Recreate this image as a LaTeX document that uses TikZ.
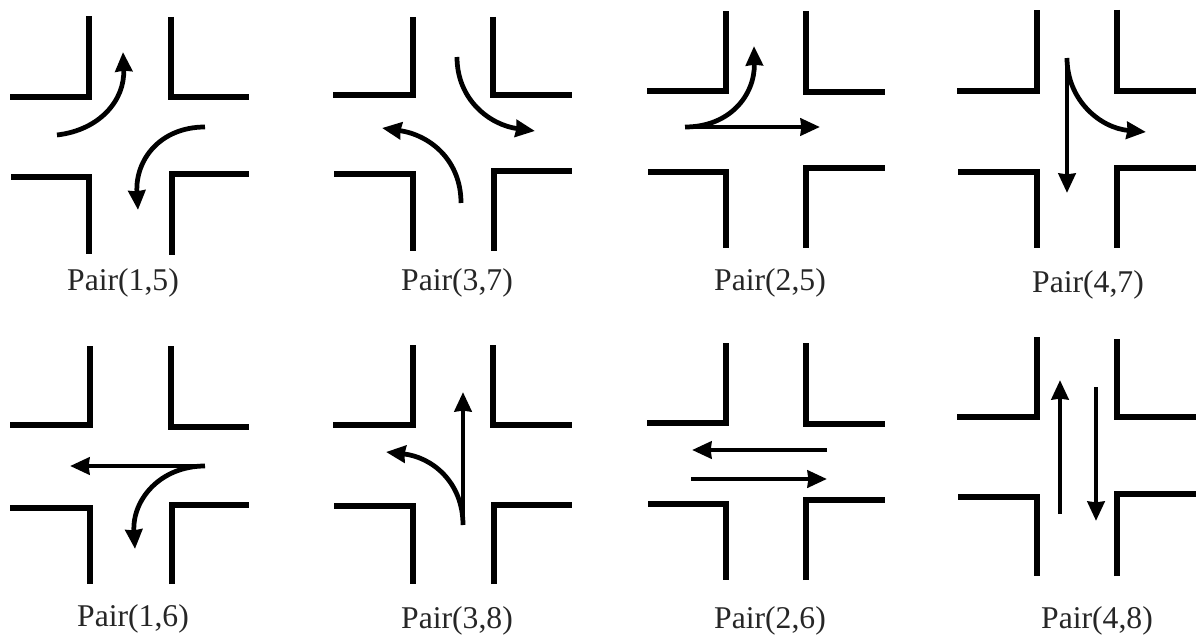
\documentclass[tikz,border=0pt]{standalone}
\usepackage{fontspec}
\setmainfont{Liberation Serif}
\usetikzlibrary{arrows.meta}
\tikzset{x=0.01cm,y=-0.01cm,
  road/.style={line width=1.5pt,line join=miter,black},
  flow/.style={line width=1.35pt,black,-{Stealth[length=5.5pt,width=4.8pt,inset=0.2pt]}},
  pairlabel/.style={font=\fontsize{9pt}{11pt}\selectfont,text=black!85,inner sep=0pt}}
\begin{document}
\begin{tikzpicture}
\useasboundingbox (0,0) rectangle (1198,637);
% panel 1
\draw[road] (10,97)--(89,97)--(89,16);
\draw[road] (171,17)--(171,97)--(249,97);
\draw[road] (11,177)--(89,177)--(89,254);
\draw[road] (172,255)--(172,174)--(249,174);
\draw[flow] (57,135) .. controls (100,130) and (125,100) .. (123,52);
\draw[flow] (205,127) .. controls (160,127) and (135,160) .. (138,210);
\node[pairlabel] (p15) at (123,283) {Pair(1,5)};
% panel 2
\draw[road] (333,95)--(413,95)--(413,17);
\draw[road] (493,17)--(493,95)--(572,95);
\draw[road] (334,174)--(413,174)--(413,251);
\draw[road] (494,251)--(494,171)--(572,171);
\draw[flow] (457,57) .. controls (457,100) and (490,125) .. (535,131);
\draw[flow] (461,203) .. controls (461,160) and (430,135) .. (382,128);
\node[pairlabel] (p37) at (457,283) {Pair(3,7)};
% panel 3
\draw[road] (647,91)--(726,91)--(726,11);
\draw[road] (806,11)--(806,92)--(885,92);
\draw[road] (648,172)--(726,172)--(726,248);
\draw[road] (806,248)--(806,168)--(885,168);
\draw[flow] (685,127)--(820,127);
\draw[flow] (685,127) .. controls (730,127) and (755,95) .. (754,46);
\node[pairlabel] (p25) at (770,283) {Pair(2,5)};
% panel 4
\draw[road] (957,91)--(1037,91)--(1037,10);
\draw[road] (1117,10)--(1117,91)--(1196,91);
\draw[road] (958,172)--(1037,172)--(1037,248);
\draw[road] (1117,248)--(1117,168)--(1196,168);
\draw[flow] (1067,58)--(1067,193);
\draw[flow] (1067,58) .. controls (1067,100) and (1100,128) .. (1146,132);
\node[pairlabel] (p47) at (1088,285) {Pair(4,7)};
% panel 5
\draw[road] (10,425)--(90,425)--(90,346);
\draw[road] (171,346)--(171,427)--(249,427);
\draw[road] (10,508)--(90,508)--(90,584);
\draw[road] (172,584)--(172,505)--(249,505);
\draw[flow] (205,466)--(70,466);
\draw[flow] (205,466) .. controls (160,466) and (132,500) .. (135,549);
\node[pairlabel] (p16) at (133,619) {Pair(1,6)};
% panel 6
\draw[road] (333,425)--(413,425)--(413,345);
\draw[road] (493,345)--(493,425)--(572,425);
\draw[road] (334,506)--(413,506)--(413,584);
\draw[road] (494,584)--(494,505)--(572,505);
\draw[flow] (463,525)--(463,392);
\draw[flow] (463,525) .. controls (463,482) and (432,457) .. (386,452);
\node[pairlabel] (p38) at (457,621) {Pair(3,8)};
% panel 7
\draw[road] (647,423)--(726,423)--(726,343);
\draw[road] (806,343)--(806,424)--(885,424);
\draw[road] (648,504)--(726,504)--(726,580);
\draw[road] (806,580)--(806,500)--(885,500);
\draw[flow] (827,450)--(692,450);
\draw[flow] (691,479)--(827,479);
\node[pairlabel] (p26) at (770,621) {Pair(2,6)};
% panel 8
\draw[road] (957,417)--(1037,417)--(1037,337);
\draw[road] (1117,339)--(1117,417)--(1196,417);
\draw[road] (958,497)--(1037,497)--(1037,576);
\draw[road] (1117,576)--(1117,494)--(1196,494);
\draw[flow] (1060,514)--(1060,380);
\draw[flow] (1096,387)--(1096,521);
\node[pairlabel] (p48) at (1097,621) {Pair(4,8)};
\end{tikzpicture}
\end{document}
